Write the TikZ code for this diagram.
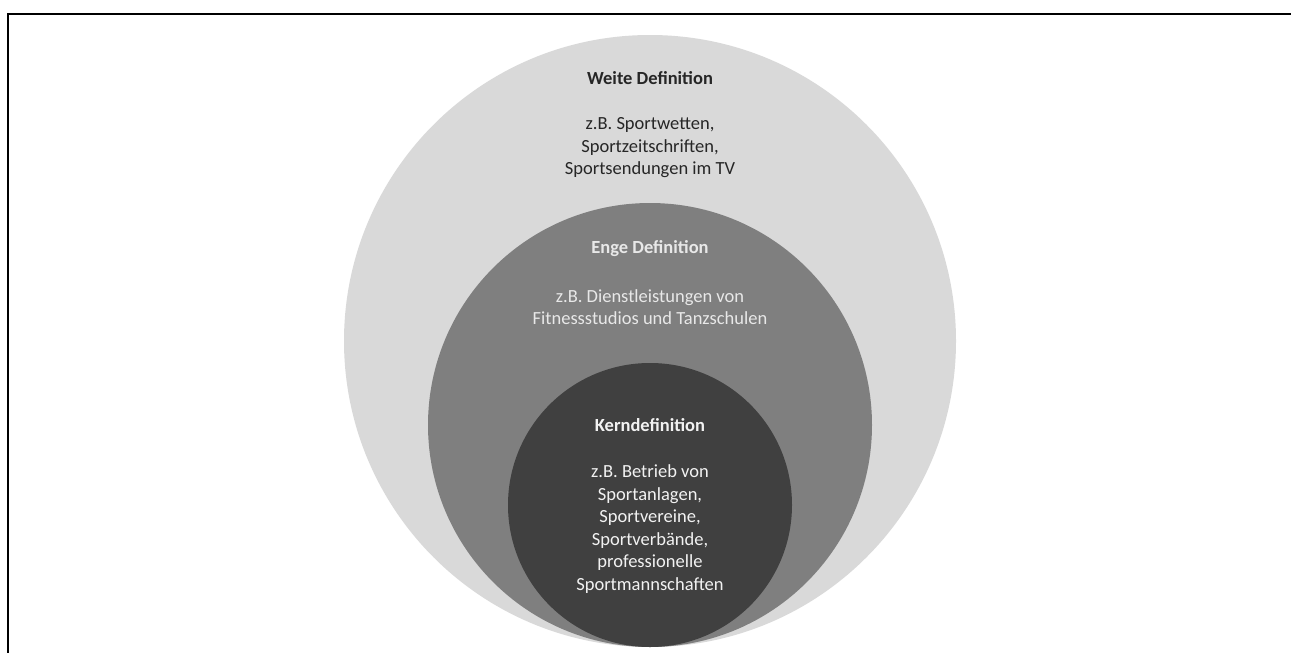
\documentclass[tikz,border=0pt]{standalone}
\usepackage{fontspec}
\setmainfont{Carlito}
\definecolor{cWeite}{HTML}{D9D9D9}
\definecolor{cEnge}{HTML}{7F7F7F}
\definecolor{cKern}{HTML}{404040}
\definecolor{tWeite}{HTML}{262626}
\definecolor{tEnge}{HTML}{E8E8E8}
\definecolor{tKern}{HTML}{F2F2F2}
\tikzset{
  ring/.style={circle, inner sep=0pt, draw=none},
  ttl/.style={font=\fontsize{18.5}{22.5}\selectfont\bfseries, inner sep=0pt, align=center},
  body/.style={font=\fontsize{18.5}{22.5}\selectfont, inner sep=0pt, align=center},
}
\begin{document}
\begin{tikzpicture}[x=1pt,y=-1pt]
\useasboundingbox (0,0) rectangle (1291,653);
\fill[white] (0,0) rectangle (1291,653);
\node[ring, fill=cWeite, minimum size=612pt] (weite) at (650,341) {};
\node[ring, fill=cEnge, minimum size=444pt] (enge) at (650,425) {};
\node[ring, fill=cKern, minimum size=284pt] (kern) at (650,505) {};
\draw[line width=2.5pt] (1291,14) coordinate (fr) -- (8,14) coordinate (fc) -- (8,653) coordinate (fb);
\node[ttl, text=tWeite] (wt) at (650,78) {Weite Definition};
\node[body, text=tWeite] (wb) at (650,148) {z.B. Sportwetten,\\Sportzeitschriften,\\Sportsendungen im TV};
\node[ttl, text=tEnge] (et) at (650,249) {Enge Definition};
\node[body, text=tEnge] (eb) at (650,307) {z.B. Dienstleistungen von\\Fitnessstudios und Tanzschulen};
\node[ttl, text=tKern] (kt) at (650,425) {Kerndefinition};
\node[body, text=tKern] (kb) at (650,529) {z.B. Betrieb von\\Sportanlagen,\\Sportvereine,\\Sportverbände,\\professionelle\\Sportmannschaften};
\end{tikzpicture}
\end{document}
